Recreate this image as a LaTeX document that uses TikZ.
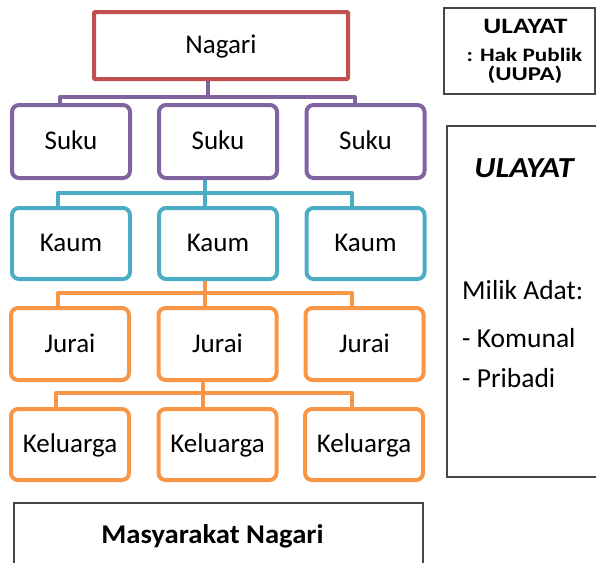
\documentclass[tikz,border=0pt]{standalone}
\usepackage{fontspec}
\usepackage{graphicx}
\setmainfont{Carlito}
\definecolor{cred}{RGB}{192,80,77}
\definecolor{cpurple}{RGB}{128,100,162}
\definecolor{cteal}{RGB}{75,172,198}
\definecolor{corange}{RGB}{247,150,70}
\definecolor{cframe}{RGB}{70,70,70}
\begin{document}
\begin{tikzpicture}[x=1pt,y=-1pt,
  lbl/.style={font=\fontsize{27}{30}\selectfont, text height=17pt, text depth=1pt, inner sep=0pt},
  cbox/.style={lbl, draw, line width=4pt, rounded corners=7pt, minimum width=118pt, minimum height=73pt},
  conn/.style={line width=4pt, line join=round},
  frame/.style={draw=cframe, line width=1.3pt},
  side/.style={inner sep=0pt, anchor=base}]
\clip (0,0) rectangle (596,562);
\useasboundingbox (0,0) rectangle (596,562);
% boxes
\node[cbox, draw=cred, rounded corners=1pt, minimum width=254pt, minimum height=67pt] (nag) at (221,45.5) {Nagari};
\node[cbox, draw=cpurple] (s1) at (71,141.5) {Suku};
\node[cbox, draw=cpurple] (s2) at (218,141.5) {Suku};
\node[cbox, draw=cpurple] (s3) at (365.5,141.5) {Suku};
\node[cbox, draw=cteal, minimum height=71pt] (k1) at (71,243.5) {Kaum};
\node[cbox, draw=cteal, minimum height=71pt] (k2) at (218,243.5) {Kaum};
\node[cbox, draw=cteal, minimum height=71pt] (k3) at (365.5,243.5) {Kaum};
\node[cbox, draw=corange, minimum height=72pt] (j1) at (70,344) {Jurai};
\node[cbox, draw=corange, minimum height=72pt] (j2) at (217.5,344) {Jurai};
\node[cbox, draw=corange, minimum height=72pt] (j3) at (364.5,344) {Jurai};
\node[cbox, draw=corange, minimum height=71pt] (e1) at (70,444.5) {Keluarga};
\node[cbox, draw=corange, minimum height=71pt] (e2) at (217.5,444.5) {Keluarga};
\node[cbox, draw=corange, minimum height=71pt] (e3) at (364,444.5) {Keluarga};
% connectors
\coordinate (p1l) at (60,97); \coordinate (p1m) at (208,97); \coordinate (p1r) at (355,97);
\draw[conn, cpurple] (nag.south -| p1m) -- (p1m);
\draw[conn, cpurple] (s1.north -| p1l) -- (p1l) -- (p1r) -- (s3.north -| p1r);
\coordinate (p2l) at (58,193); \coordinate (p2m) at (205,193); \coordinate (p2r) at (352,193);
\draw[conn, cteal] (s2.south -| p2m) -- (k2.north -| p2m);
\draw[conn, cteal] (k1.north -| p2l) -- (p2l) -- (p2r) -- (k3.north -| p2r);
\coordinate (p3l) at (58,293); \coordinate (p3m) at (205,293); \coordinate (p3r) at (352,293);
\draw[conn, corange] (k2.south -| p3m) -- (j2.north -| p3m);
\draw[conn, corange] (j1.north -| p3l) -- (p3l) -- (p3r) -- (j3.north -| p3r);
\coordinate (p4l) at (56,393); \coordinate (p4m) at (203,393); \coordinate (p4r) at (352,393);
\draw[conn, corange] (j2.south -| p4m) -- (e2.north -| p4m);
\draw[conn, corange] (e1.north -| p4l) -- (p4l) -- (p4r) -- (e3.north -| p4r);
% bottom box
\draw[frame] (14,580) -- (14,503) -- (423,503) -- (423,580);
\node[side, font=\fontsize{27}{30}\selectfont\bfseries] (mn) at (212.5,543) {\scalebox{1.06}[1]{Masyarakat Nagari}};
% right top box
\draw[frame] (444,8) rectangle (595,94);
\node[side, font=\fontsize{22}{24}\selectfont\bfseries] (u1) at (525.5,33) {\scalebox{1.25}[1]{ULAYAT}};
\node[side, font=\fontsize{19}{22}\selectfont\bfseries] (u2) at (524.5,61) {\scalebox{1.22}[1]{: Hak Publik}};
\node[side, font=\fontsize{19.5}{22}\selectfont\bfseries] (u3) at (525,80) {\scalebox{1.28}[1]{(UUPA)}};
% right big box
\draw[frame] (600,126) -- (447,126) -- (447,477) -- (600,477);
\node[side, font=\fontsize{29}{32}\selectfont\bfseries\itshape] (u4) at (524,177) {\scalebox{1.12}[1]{ULAYAT}};
\node[side, anchor=base west, font=\fontsize{27.5}{30}\selectfont] (m1) at (462,299) {Milik Adat:};
\node[side, anchor=base west, font=\fontsize{27.5}{30}\selectfont] (m2) at (462,347) {- Komunal};
\node[side, anchor=base west, font=\fontsize{27.5}{30}\selectfont] (m3) at (462,387) {- Pribadi};
\end{tikzpicture}
\end{document}
